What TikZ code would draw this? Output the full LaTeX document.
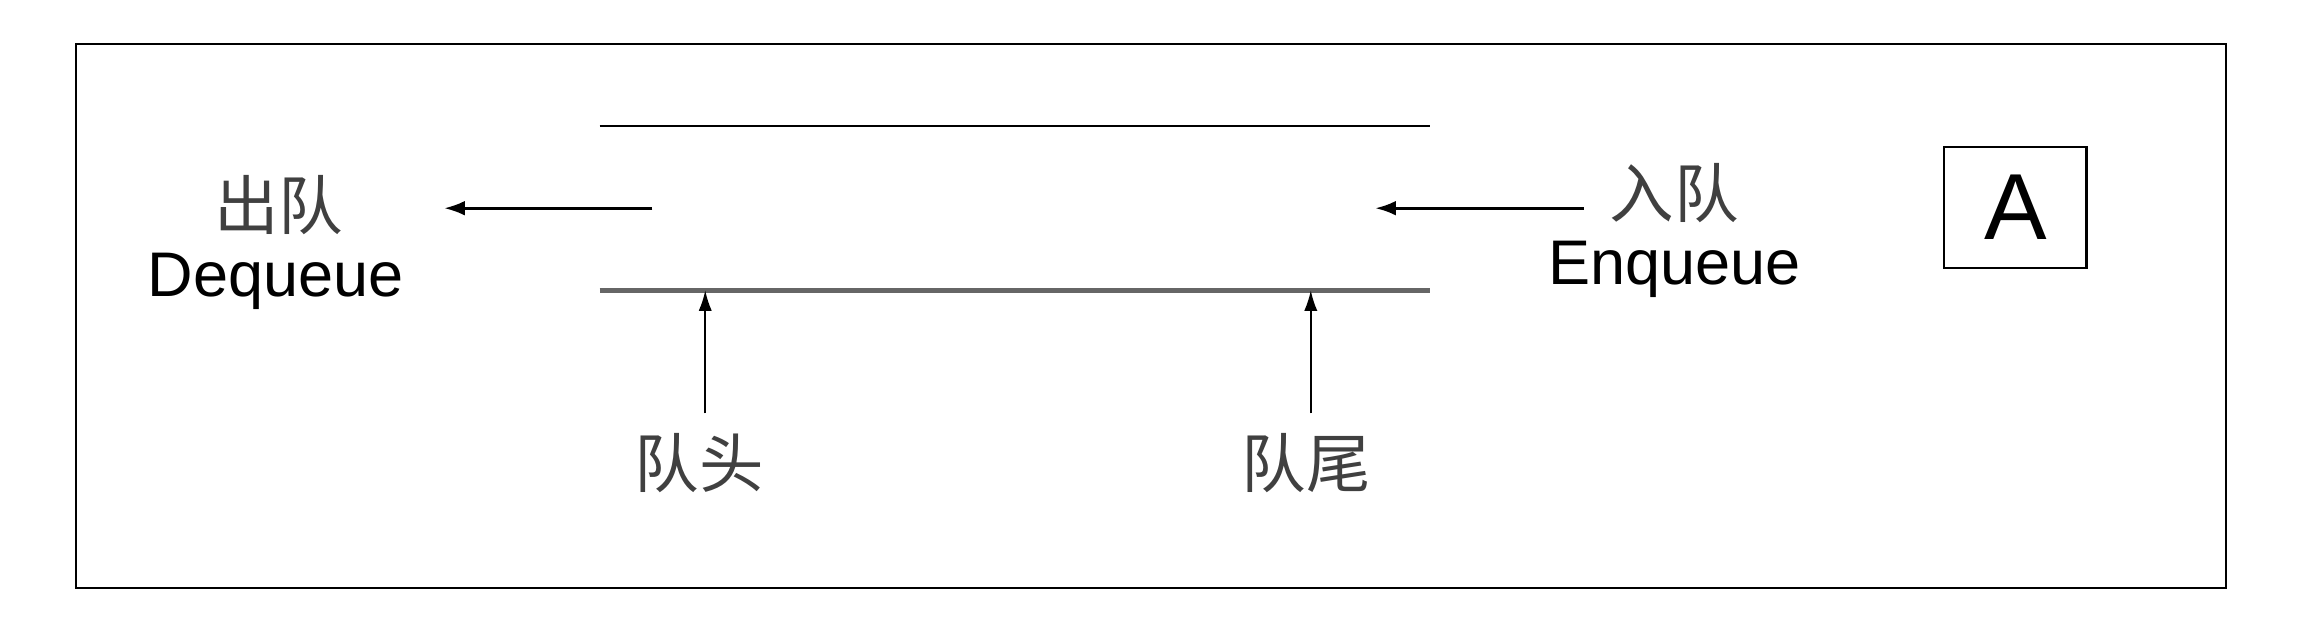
\documentclass[tikz,border=0pt]{standalone}
\usepackage{fontspec}
\usetikzlibrary{arrows.meta}
\setmainfont{Liberation Sans}
\newfontfamily\cjk{Noto Sans CJK SC}
\begin{document}
\begin{tikzpicture}[x=1pt,y=-1pt,
  lbl/.style={inner sep=0pt,align=center},
  cj/.style={lbl,text=black!75,font=\cjk\fontsize{44}{50}\selectfont},
  la/.style={lbl,font=\fontsize{43}{48}\selectfont},
  arr/.style={-{Latex[length=14pt,width=10pt]},line width=1.8pt}]
\useasboundingbox (0,0) rectangle (1568,432);
\draw[line width=1.5pt] (52,30) rectangle (1518,401);
\coordinate (t1) at (409,86); \coordinate (t2) at (975,86);
\coordinate (b1) at (409,198); \coordinate (b2) at (975,198);
\draw[line width=1.5pt] (t1) -- (t2);
\draw[line width=3pt,gray!80!black] (b1) -- (b2);
\node[cj] (out) at (190,140) {出队};
\node[la] (deq) at (188,192) {Dequeue};
\node[cj] (in) at (1142,132) {入队};
\node[la] (enq) at (1142,184) {Enqueue};
\node[draw,line width=1.5pt,minimum width=97pt,minimum height=83pt,inner sep=0pt,font=\fontsize{64}{66}\selectfont] (A) at (1374.5,141.5) {A};
\coordinate (ls) at (445,142); \coordinate (le) at (303,142);
\coordinate (rs) at (1080,142); \coordinate (re) at (938,142);
\draw[arr] (ls) -- (le);
\draw[arr] (rs) -- (re);
\node[cj] (head) at (477,316) {队头};
\node[cj] (tail) at (891,316) {队尾};
\coordinate (h1) at (481,282); \coordinate (h2) at (481,198);
\coordinate (k1) at (894,282); \coordinate (k2) at (894,198);
\draw[-{Latex[length=14pt,width=9pt]},line width=1.2pt] (h1) -- (h2);
\draw[-{Latex[length=14pt,width=9pt]},line width=1.2pt] (k1) -- (k2);
\end{tikzpicture}
\end{document}
